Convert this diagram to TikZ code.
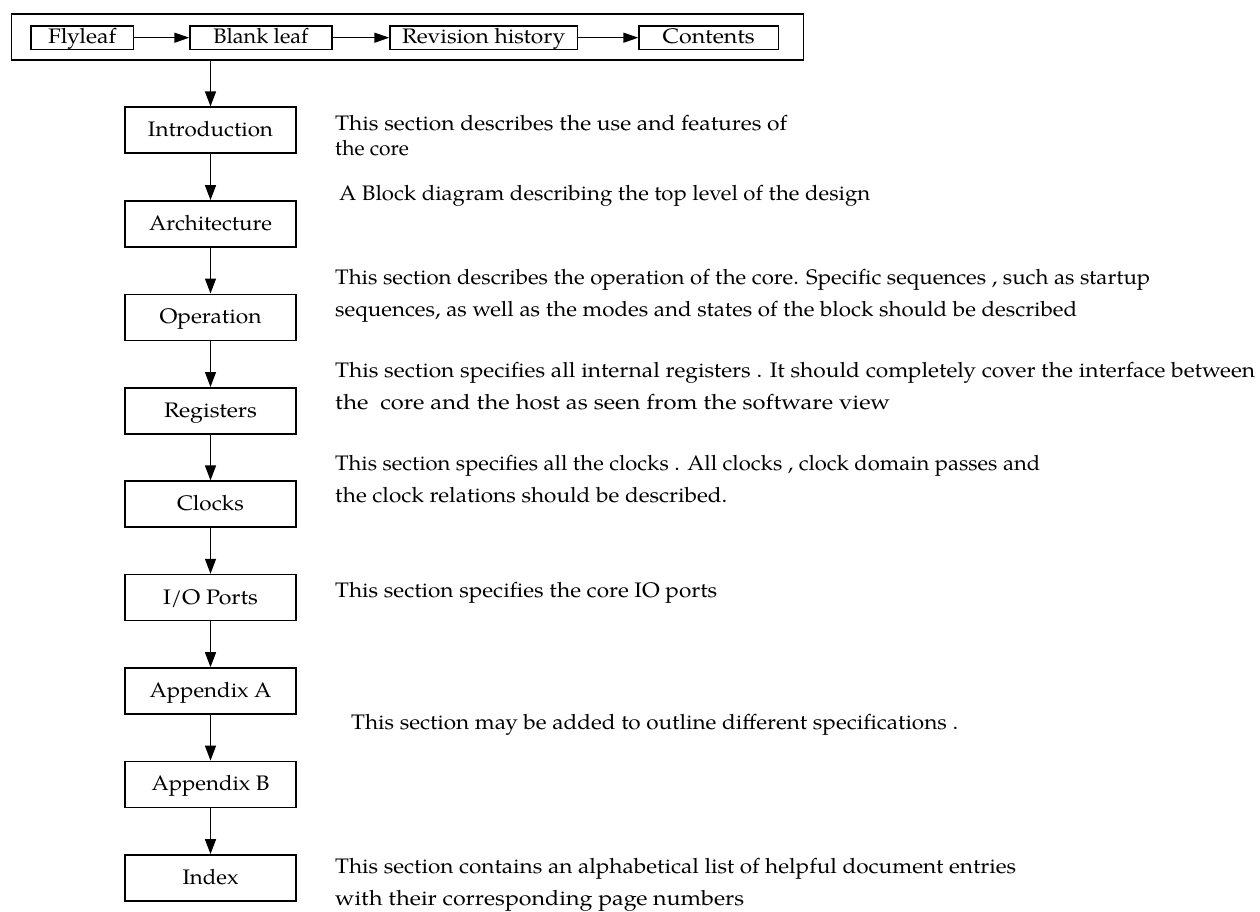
\documentclass[tikz,border=0pt]{standalone}
\usepackage{fontspec}
\setmainfont{TeX Gyre Pagella}
\usetikzlibrary{arrows.meta}
\newcommand\Wd[2]{\resizebox{#1pt}{\height}{#2}}
\begin{document}
\begin{tikzpicture}[x=1pt,y=-1pt,
  mainbox/.style={draw, line width=1.6pt, minimum width=171pt, minimum height=46pt, inner sep=0pt, text height=15pt, text depth=2pt, font=\fontsize{21}{25}\selectfont},
  topbox/.style={draw, line width=1.5pt, minimum height=23.3pt, inner sep=0pt, text height=14pt, text depth=2.4pt, font=\fontsize{21}{25}\selectfont},
  frame/.style={draw, line width=1.6pt, inner sep=0pt},
  desc/.style={anchor=base west, inner sep=0pt, align=left, font=\fontsize{21}{32}\selectfont},
  arr/.style={line width=1.4pt, -{Triangle[length=15pt,width=11pt]}},
  tarr/.style={line width=1.4pt, -{Triangle[length=15pt,width=10pt]}}]
\useasboundingbox (0,0) rectangle (1260,912);
\node[frame, minimum width=791.8pt, minimum height=46pt] (front) at (407.4,37) {};
\node[topbox, minimum width=102.3pt] (fly) at (82.2,37.7) {\Wd{68}{Flyleaf}};
\node[topbox, minimum width=141.7pt] (blank) at (260.9,37.7) {\Wd{95}{Blank leaf}};
\node[topbox, minimum width=187.3pt] (rev) at (483.7,37.7) {\Wd{163}{Revision history}};
\node[topbox, minimum width=139.3pt] (cont) at (708.7,37.7) {\Wd{92}{Contents}};
\draw[tarr] (fly) -- (blank);
\draw[tarr] (blank) -- (rev);
\draw[tarr] (rev) -- (cont);

\node[mainbox] (intro) at (210.5,130.2) {\Wd{125}{Introduction}};
\node[mainbox] (arch)  at (210.5,223.9) {\Wd{123}{Architecture}};
\node[mainbox] (oper)  at (210.5,317.3) {\Wd{102}{Operation}};
\node[mainbox] (regs)  at (210.5,410.8) {\Wd{93}{Registers}};
\node[mainbox] (clk)   at (210.5,504.2) {\Wd{67}{Clocks}};
\node[mainbox] (io)    at (210.5,597.6) {\Wd{95}{I/O Ports}};
\node[mainbox] (appa)  at (210.5,691.0) {\Wd{122}{Appendix A}};
\node[mainbox] (appb)  at (210.5,784.4) {\Wd{118}{Appendix B}};
\node[mainbox] (index) at (210.5,877.9) {\Wd{56}{Index}};

\draw[arr] (intro.north |- front.south) -- (intro.north);
\draw[arr] (intro) -- (arch);
\draw[arr] (arch) -- (oper);
\draw[arr] (oper) -- (regs);
\draw[arr] (regs) -- (clk);
\draw[arr] (clk) -- (io);
\draw[arr] (io) -- (appa);
\draw[arr] (appa) -- (appb);
\draw[arr] (appb) -- (index);

\node[desc] (tintro) at (335,131) {\Wd{452}{This section describes the use and features of}};
\node[desc] (tintrob) at (335,156) {the core};
\node[desc] (tarch) at (339,200) {\Wd{531}{A Block diagram describing the top level of the design}};
\node[desc] (toper) at (335,316) {\Wd{815}{This section describes the operation of the core. Specific sequences , such as startup}\\\Wd{742}{sequences, as well as the modes and states of the block should be described}};
\node[desc] (tregs) at (335,409) {\Wd{920}{This section specifies all internal registers . It should completely cover the interface between}\\\Wd{555}{the \ core and the host as seen from the software view}};
\node[desc] (tclk) at (335,502) {\Wd{705}{This section specifies all the clocks . All clocks , clock domain passes and}\\\Wd{392}{the clock relations should be described.}};
\node[desc] (tio) at (335,597) {\Wd{382}{This section specifies the core IO ports}};
\node[desc] (tapp) at (351,729) {\Wd{607}{This section may be added to outline different specifications .}};
\node[desc] (tindex) at (335,905) {\Wd{681}{This section contains an alphabetical list of helpful document entries}\\\Wd{409}{with their corresponding page numbers}};
\end{tikzpicture}
\end{document}
